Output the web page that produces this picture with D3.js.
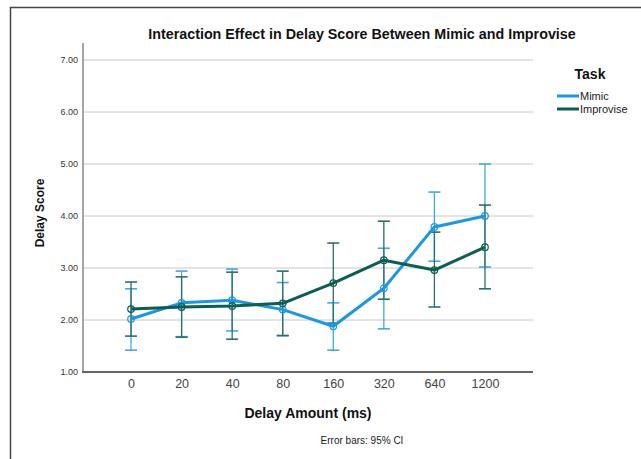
<!DOCTYPE html>
<html><head><meta charset="utf-8">
<script src="https://cdn.jsdelivr.net/npm/d3@7"></script>
<style>body{margin:0;background:#fff}svg{display:block;font-family:"Liberation Sans",Arial,sans-serif}</style>
</head><body><svg id="c" width="641" height="459"></svg>
<script>
const categories = ["0","20","40","80","160","320","640","1200"];
const mimicMean  = [2.02,2.33,2.38,2.20,1.88,2.61,3.79,4.00];
const mimicLow   = [1.42,1.68,1.79,1.70,1.42,1.83,3.13,3.02];
const mimicHigh  = [2.60,2.94,2.98,2.72,2.33,3.38,4.46,5.00];
const impMean    = [2.21,2.25,2.27,2.32,2.71,3.15,2.96,3.40];
const impLow     = [1.69,1.67,1.63,1.70,1.94,2.40,2.25,2.60];
const impHigh    = [2.73,2.83,2.92,2.94,3.48,3.90,3.69,4.21];
const yTicks     = [1,2,3,4,5,6,7];
const seriesNames = ["Mimic","Improvise"];

const svg = d3.select("#c");
const x = d3.scalePoint().domain(categories).range([83,533]).padding(0.95);
const y = d3.scaleLinear().domain([1,7]).range([372,60]);

// frame
svg.append("path").attr("d","M10.5,459 V7.5 H641").attr("fill","none").attr("stroke","#444").attr("stroke-width",1.5);

// grid
svg.append("g").selectAll("line").data(yTicks.slice(1)).join("line")
  .attr("x1",83).attr("x2",533).attr("y1",d=>y(d)).attr("y2",d=>y(d))
  .attr("stroke","#c8c8c8").attr("stroke-width",1);

// y axis
const ya = svg.append("g").attr("transform","translate(83,0)")
  .call(d3.axisLeft(y).tickValues(yTicks).tickFormat(d3.format(".2f")).tickSize(0).tickPadding(5));
ya.select(".domain").remove();
ya.selectAll("text").attr("font-size",9).attr("fill","#333").attr("font-family","Liberation Sans, Arial");
svg.append("line").attr("x1",83).attr("x2",83).attr("y1",43).attr("y2",373).attr("stroke","#888").attr("stroke-width",1.5);

// x axis
const xa = svg.append("g").attr("transform","translate(0,372)")
  .call(d3.axisBottom(x).tickSize(0).tickPadding(7));
xa.select(".domain").remove();
xa.selectAll("text").attr("font-size",12.5).attr("fill","#444").attr("font-family","Liberation Sans, Arial");
svg.append("line").attr("x1",82).attr("x2",533).attr("y1",372).attr("y2",372).attr("stroke","#666").attr("stroke-width",2);

const series = [
  {name:seriesNames[0], mean:mimicMean, lo:mimicLow, hi:mimicHigh, line:"#1e96e0", err:"#45a7e2"},
  {name:seriesNames[1], mean:impMean, lo:impLow, hi:impHigh, line:"#0c5d52", err:"#2b6f6b"}
];

series.forEach(s=>{
  const g = svg.append("g");
  const idx = categories.map((c,i)=>i);
  g.selectAll(".eb").data(idx).join("line")
    .attr("x1",i=>x(categories[i])).attr("x2",i=>x(categories[i]))
    .attr("y1",i=>y(s.lo[i])).attr("y2",i=>y(s.hi[i]))
    .attr("stroke",s.err).attr("stroke-width",1.3);
  g.selectAll(".ct").data(idx).join("line")
    .attr("x1",i=>x(categories[i])-6).attr("x2",i=>x(categories[i])+6)
    .attr("y1",i=>y(s.hi[i])).attr("y2",i=>y(s.hi[i]))
    .attr("stroke",s.err).attr("stroke-width",1.6);
  g.selectAll(".cb").data(idx).join("line")
    .attr("x1",i=>x(categories[i])-6).attr("x2",i=>x(categories[i])+6)
    .attr("y1",i=>y(s.lo[i])).attr("y2",i=>y(s.lo[i]))
    .attr("stroke",s.err).attr("stroke-width",1.6);
});
series.forEach(s=>{
  const g = svg.append("g");
  const idx = categories.map((c,i)=>i);
  g.append("path").datum(idx)
    .attr("d",d3.line().x(i=>x(categories[i])).y(i=>y(s.mean[i])))
    .attr("fill","none").attr("stroke",s.line).attr("stroke-width",3).attr("stroke-linejoin","round");
  g.selectAll("circle").data(idx).join("circle")
    .attr("cx",i=>x(categories[i])).attr("cy",i=>y(s.mean[i])).attr("r",3.3)
    .attr("fill","none").attr("stroke",s.line).attr("stroke-width",1.2);
});

// titles
svg.append("text").attr("x",362).attr("y",39).attr("text-anchor","middle")
  .attr("font-size",14.3).attr("font-weight","bold").attr("fill","#111")
  .text("Interaction Effect in Delay Score Between Mimic and Improvise");
svg.append("text").attr("transform","translate(44,213) rotate(-90)").attr("text-anchor","middle")
  .attr("font-size",12).attr("font-weight","bold").attr("fill","#111").text("Delay Score");
svg.append("text").attr("x",308).attr("y",418).attr("text-anchor","middle")
  .attr("font-size",14).attr("font-weight","bold").attr("fill","#111").text("Delay Amount (ms)");
svg.append("text").attr("x",362).attr("y",444).attr("text-anchor","middle")
  .attr("font-size",10).attr("fill","#222").text("Error bars: 95% CI");

// legend
const lg = svg.append("g");
lg.append("text").attr("x",590).attr("y",79).attr("text-anchor","middle")
  .attr("font-size",14).attr("font-weight","bold").attr("fill","#111").text("Task");
series.forEach((s,i)=>{
  const yy = 96 + i*13;
  lg.append("line").attr("x1",557).attr("x2",579).attr("y1",yy).attr("y2",yy)
    .attr("stroke",s.line).attr("stroke-width",3);
  lg.append("text").attr("x",580).attr("y",yy+4).attr("font-size",11).attr("fill","#222").text(s.name);
});
</script></body></html>
